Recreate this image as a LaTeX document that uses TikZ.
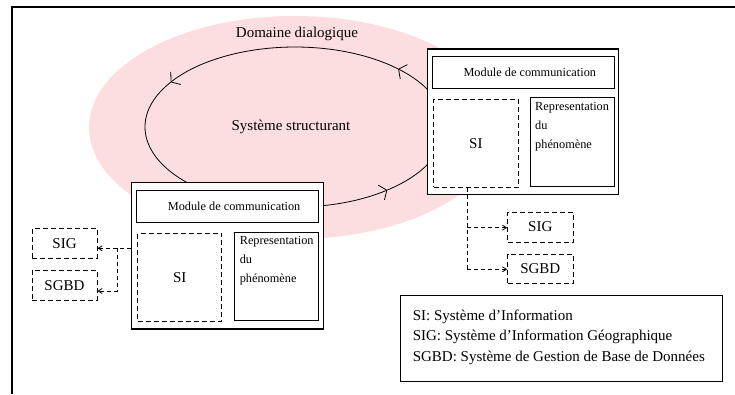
\documentclass[tikz,border=0pt]{standalone}
\usepackage{fontspec}
\setmainfont{Liberation Serif}
\usetikzlibrary{arrows.meta,calc}

\definecolor{domainpink}{RGB}{253,222,224}

\begin{document}
\begin{tikzpicture}[x=1pt,y=-1pt,
  big/.style={font=\fontsize{15}{18}\selectfont},
  small/.style={font=\fontsize{12.3}{15}\selectfont},
  outerbox/.style={draw, fill=white, line width=1.2pt, inner sep=0pt},
  innerbox/.style={draw, fill=white, line width=0.8pt, inner sep=0pt},
  dbox/.style={draw, fill=white, dash pattern=on 5pt off 3pt, line width=0.8pt, inner sep=0pt},
  dconn/.style={dash pattern=on 4pt off 3pt, line width=0.8pt},
  tip/.style={-{Straight Barb[length=4pt,width=5pt]}},
  cyc/.style={line width=0.8pt, -{Straight Barb[length=6pt,width=16pt]}},
  reptext/.style={align=left, anchor=north west, inner sep=0pt,
                  font=\fontsize{12.3}{19}\selectfont},
]
\useasboundingbox (0,0) rectangle (735,394);

% page frame (top and left rules)
\draw[line width=2pt] (11.7,394) -- (11.7,6.7) -- (735,6.7);

% dialogue domain
\fill[domainpink] (295,127.5) ellipse [x radius=206pt, y radius=111.5pt];
\node[big] (dom) at (297,34) {Domaine dialogique};

% structuring cycle
\coordinate (cyc) at (295,127);
\node[big] (struct) at (291,127) {Système structurant};
\draw[cyc] ($(cyc)+(150,0)$) arc[start angle=0, end angle=46.6, x radius=150pt, y radius=80pt];
\draw[cyc] ($(cyc)+(46.6:150pt and 80pt)$) arc[start angle=46.6, end angle=146, x radius=150pt, y radius=80pt];
\draw[cyc] ($(cyc)+(146:150pt and 80pt)$) arc[start angle=146, end angle=308, x radius=150pt, y radius=80pt];
\draw[line width=0.8pt] ($(cyc)+(308:150pt and 80pt)$) arc[start angle=308, end angle=360, x radius=150pt, y radius=80pt];

% left system
\node[outerbox, minimum width=192.2pt, minimum height=146.7pt] (lbox) at (227.4,255.7) {};
\node[innerbox, minimum width=182.4pt, minimum height=32.3pt,
      label={[small, xshift=6.5pt]center:Module de communication}] (lmod) at (227.6,206.2) {};
\node[dbox, minimum width=84pt, minimum height=87.7pt, big] (lsi) at (179.8,277.2) {SI};
\node[innerbox, minimum width=84.4pt, minimum height=88pt] (lrep) at (276.6,276) {};
\node[reptext] (lreptxt) at ($(lrep.north west)+(5.6,5)$) {Representation\\du\\phénomène};

% right system
\node[outerbox, minimum width=191.2pt, minimum height=145.3pt] (rbox) at (523.2,121.7) {};
\node[innerbox, minimum width=181.9pt, minimum height=32.3pt,
      label={[small, xshift=6.5pt]center:Module de communication}] (rmod) at (523.3,72.2) {};
\node[dbox, minimum width=84.3pt, minimum height=88.3pt, big] (rsi) at (475.9,143.2) {SI};
\node[innerbox, minimum width=84pt, minimum height=88.3pt] (rrep) at (572.2,141.9) {};
\node[reptext] (rreptxt) at ($(rrep.north west)+(5.2,5)$) {Representation\\du\\phénomène};

% external systems
\node[dbox, minimum width=65.1pt, minimum height=29.6pt, big] (lsig) at (64.5,243.5) {SIG};
\node[dbox, minimum width=65.1pt, minimum height=30pt, big] (lsgbd) at (64.5,285.3) {\raisebox{-3pt}{SGBD}};
\node[dbox, minimum width=65.5pt, minimum height=30pt, big] (rsig) at (540.3,227) {SIG};
\node[dbox, minimum width=65.5pt, minimum height=29.4pt, big] (rsgbd) at (540.3,269) {\raisebox{-3pt}{SGBD}};

% links from the left system
\coordinate (lj1) at (117.3,248.3);
\coordinate (lj2) at (117.3,291);
\draw[dconn, tip] (lbox.west |- lj1) -- (lsig.east |- lj1);
\draw[dconn, tip] (lj1) -- (lj2) -- (lsgbd.east |- lj2);

% links from the right system
\coordinate (rj1) at (467.3,227.7);
\coordinate (rj2) at (467.3,269.3);
\draw[dconn] (rsi.south -| rj1) -- (rj2);
\draw[dconn, tip] (rj1) -- (rsig.west |- rj1);
\draw[dconn, tip] (rj2) -- (rsgbd.west |- rj2);

% abbreviations
\node[draw, line width=0.8pt, minimum width=322pt, minimum height=86pt] (legend) at (561,338.7) {};
\node[anchor=west, inner sep=0pt, align=left,
      font=\fontsize{15}{20.5}\selectfont] (legendtxt) at (412.6,337)
  {SI: Système d’Information\\
   SIG: Système d’Information Géographique\\
   SGBD: Système de Gestion de Base de Données};
\end{tikzpicture}
\end{document}
